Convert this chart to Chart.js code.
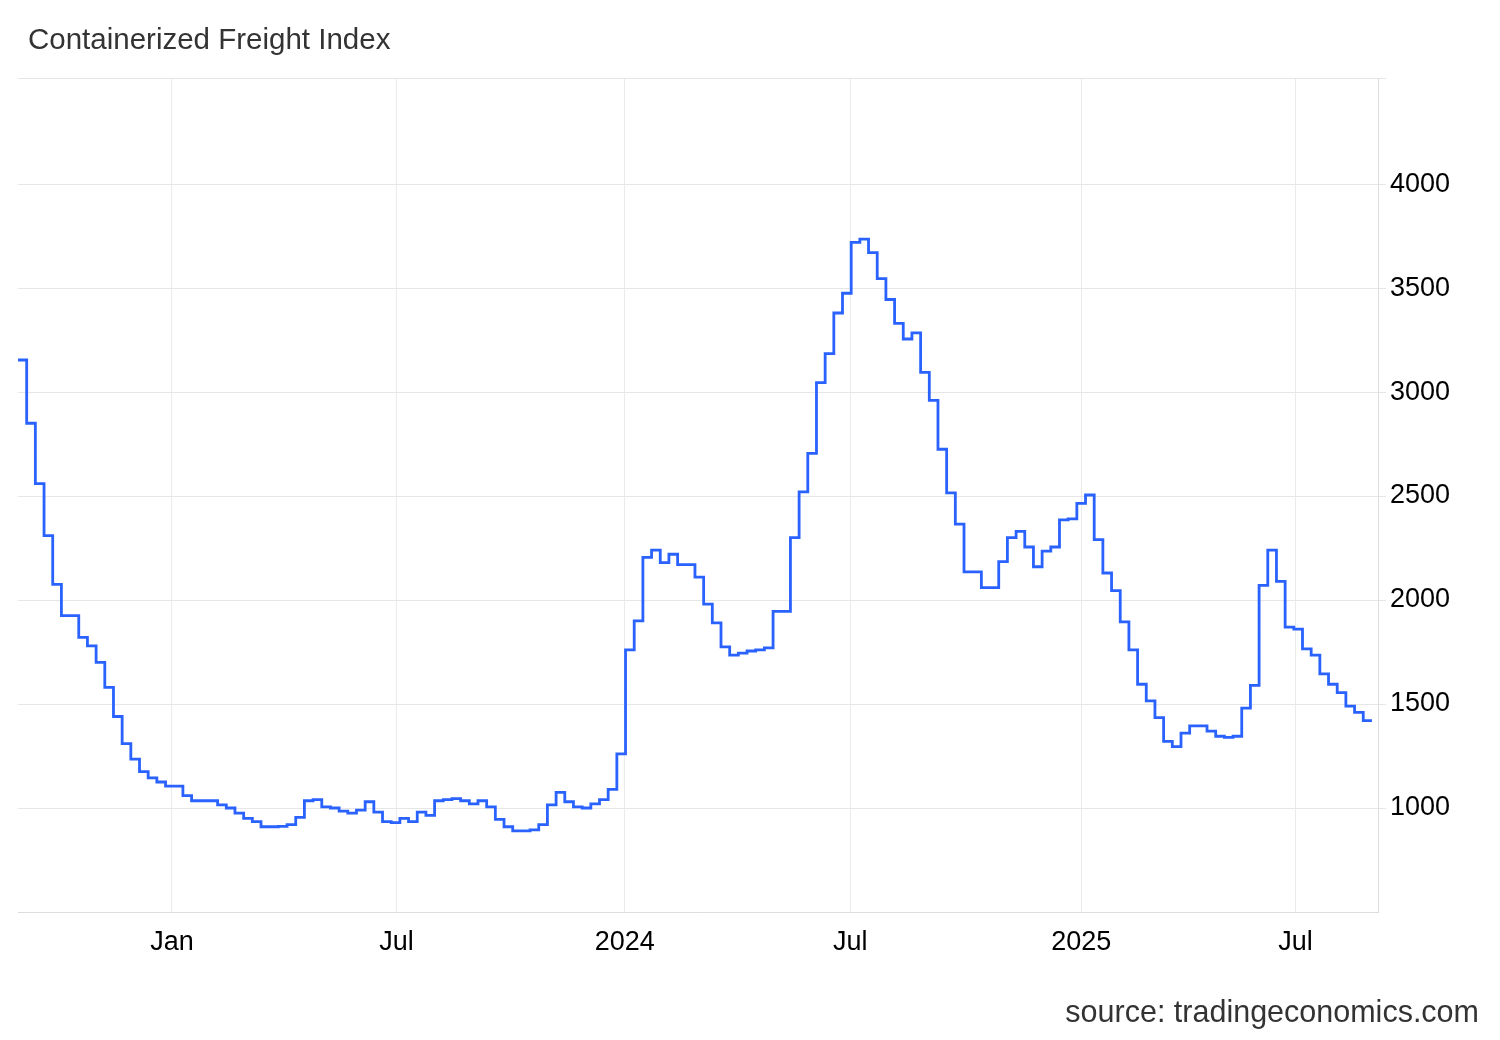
<!DOCTYPE html>
<html><head><meta charset="utf-8">
<script src="https://cdn.jsdelivr.net/npm/chart.js@4"></script>
<style>
body{margin:0;background:#fff;font-family:"Liberation Sans",Arial,sans-serif;}
#wrap{position:relative;width:1500px;height:1040px;}
#title{position:absolute;left:28px;top:22px;font-size:29.5px;color:#333;}
#src{position:absolute;right:21px;top:994px;font-size:30.5px;color:#333;}
canvas{position:absolute;left:0;top:0;}
</style></head><body>
<div id="wrap"><canvas id="c" width="1500" height="1040"></canvas>
<div id="title">Containerized Freight Index</div>
<div id="src">source: tradingeconomics.com</div></div>
<script>
// weekly values, first week ~ 30 Aug 2022
const values=[3154,2850,2560,2310,2075,1925,1925,1820,1780,1700,1580,1440,1310,1235,1175,1145,1125,1105,1105,1060,1035,1035,1035,1015,1000,975,950,935,910,910,912,920,955,1035,1040,1005,1000,985,975,990,1030,980,935,930,950,935,980,965,1035,1040,1045,1035,1020,1035,1005,945,910,890,890,895,920,1015,1075,1030,1005,1000,1020,1040,1090,1260,1760,1900,2205,2240,2180,2220,2170,2170,2110,1980,1890,1775,1735,1745,1755,1760,1770,1945,1945,2300,2520,2705,3045,3185,3380,3475,3720,3735,3670,3545,3445,3330,3255,3285,3095,2960,2725,2515,2365,2135,2135,2060,2060,2185,2300,2330,2255,2160,2235,2255,2385,2390,2465,2505,2290,2130,2045,1895,1760,1595,1515,1435,1320,1295,1360,1395,1395,1370,1345,1340,1345,1480,1590,2070,2240,2090,1870,1860,1765,1735,1645,1595,1555,1490,1460,1420,1420];
const weeks=values.map((v,i)=>i);
const xTickWeeks=[17.74,43.6,69.9,95.9,122.5,147.2];
const xTickLabels=['Jan','Jul','2024','Jul','2025','Jul'];
const yTicks=[1000,1500,2000,2500,3000,3500,4000];
const pts=values.map((v,i)=>({x:weeks[i],y:v}));
const F='"Liberation Sans",Arial,sans-serif';
new Chart(document.getElementById('c'),{
type:'line',
data:{datasets:[{data:pts,borderColor:'#2962ff',borderWidth:2.8,pointRadius:0,stepped:true,fill:false}]},
options:{responsive:false,animation:false,
layout:{padding:{left:18,top:78,right:0,bottom:0}},
plugins:{legend:{display:false},tooltip:{enabled:false}},
scales:{
x:{type:'linear',min:0,max:156.7,
 afterBuildTicks:s=>{s.ticks=xTickWeeks.map(v=>({value:v}));},
 afterFit:s=>{s.height=128;},
 ticks:{autoSkip:false,maxRotation:0,padding:14,color:'#000',font:{size:27,family:F},
  callback:(v,i)=>xTickLabels[i]},
 grid:{color:'#ebebeb',lineWidth:1,drawTicks:true,tickLength:0},
 border:{color:'#ddd'}},
y:{position:'right',min:500,max:4510,
 afterBuildTicks:s=>{s.ticks=yTicks.map(v=>({value:v})).concat([{value:4510}]);},
 afterFit:s=>{s.width=122;},
 ticks:{padding:4,color:'#000',font:{size:27,family:F},
  callback:v=>v===4510?'':String(v)},
 grid:{color:'#e6e6e6',lineWidth:1,tickLength:8},
 border:{color:'#ddd'}}
}}});
</script></body></html>
